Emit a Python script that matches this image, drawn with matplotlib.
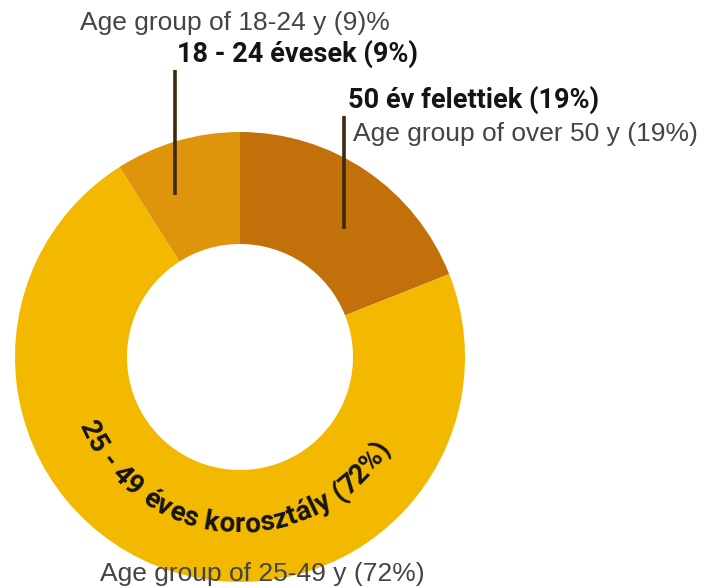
import numpy as np
import matplotlib
matplotlib.use("Agg")
import matplotlib.pyplot as plt
from matplotlib.font_manager import FontProperties

# ---- data ----
segment_labels = ["50 év felettiek (19%)", "25 - 49 éves korosztály (72%)", "18 - 24 évesek (9%)"]
segment_values = [19, 72, 9]
segment_colors = ["#C1700A", "#F3B900", "#DF950B"]
english_labels = ["Age group of over 50 y (19%)", "Age group of 25-49 y (72%)", "Age group of 18-24 y (9)%"]

W, H = 704, 588
fig = plt.figure(figsize=(W / 100, H / 100), dpi=100)
ax = fig.add_axes([0, 0, 1, 1])

cx, cy = 240, H - 357
R_out, R_in = 225, 113

ax.pie(segment_values, colors=segment_colors, startangle=90, counterclock=False,
       radius=R_out, center=(cx, cy), frame=True,
       wedgeprops=dict(width=R_out - R_in, linewidth=0))
ax.set_xlim(0, W)
ax.set_ylim(0, H)
ax.set_aspect("equal")
ax.axis("off")

grey = "#444444"
dark = "#141414"
line_col = "#3b2a0c"
reg = dict(family=["Liberation Sans", "DejaVu Sans"], color=grey, fontsize=19)
bold = dict(family=["Roboto", "DejaVu Sans"], color=dark, fontsize=19.5, fontweight="bold")

# leader lines
ax.plot([175, 175], [H - 70, H - 195], color=line_col, lw=2.6, solid_capstyle="butt")
ax.plot([344, 344], [H - 116, H - 229], color=line_col, lw=2.6, solid_capstyle="butt")

# labels for 18-24
ax.text(390, H - 30, english_labels[2], ha="right", va="baseline", **reg)
ax.text(418, H - 62, segment_labels[2], ha="right", va="baseline", **bold)
# labels for 50+
ax.text(348, H - 108, segment_labels[0], ha="left", va="baseline", **bold)
ax.text(698, H - 141, english_labels[0], ha="right", va="baseline", **reg)
# bottom english label
ax.text(100, H - 581, english_labels[1], ha="left", va="baseline", **reg)

# curved label along ring
fig.canvas.draw()
renderer = fig.canvas.get_renderer()
prop = FontProperties(family="Roboto", weight="bold", size=20)
txt = segment_labels[1]
def wpx(s):
    if not s:
        return 0.0
    w, h, d = renderer.get_text_width_height_descent(s.replace(" ", "\u00a0"), prop, ismath=False)
    return w
total = wpx(txt)
R_txt = 168
theta_mid = np.deg2rad(-94)
theta0 = theta_mid - (total / 2) / R_txt
for i, ch in enumerate(txt):
    if ch == " ":
        continue
    s_mid = wpx(txt[:i]) + wpx(ch) / 2
    th = theta0 + s_mid / R_txt
    x = cx + R_txt * np.cos(th)
    y = cy + R_txt * np.sin(th)
    ax.text(x, y, ch, fontproperties=prop, color=dark, ha="center", va="center",
            rotation=np.rad2deg(th) + 90, rotation_mode="anchor")

fig.savefig("out.png", dpi=100)
